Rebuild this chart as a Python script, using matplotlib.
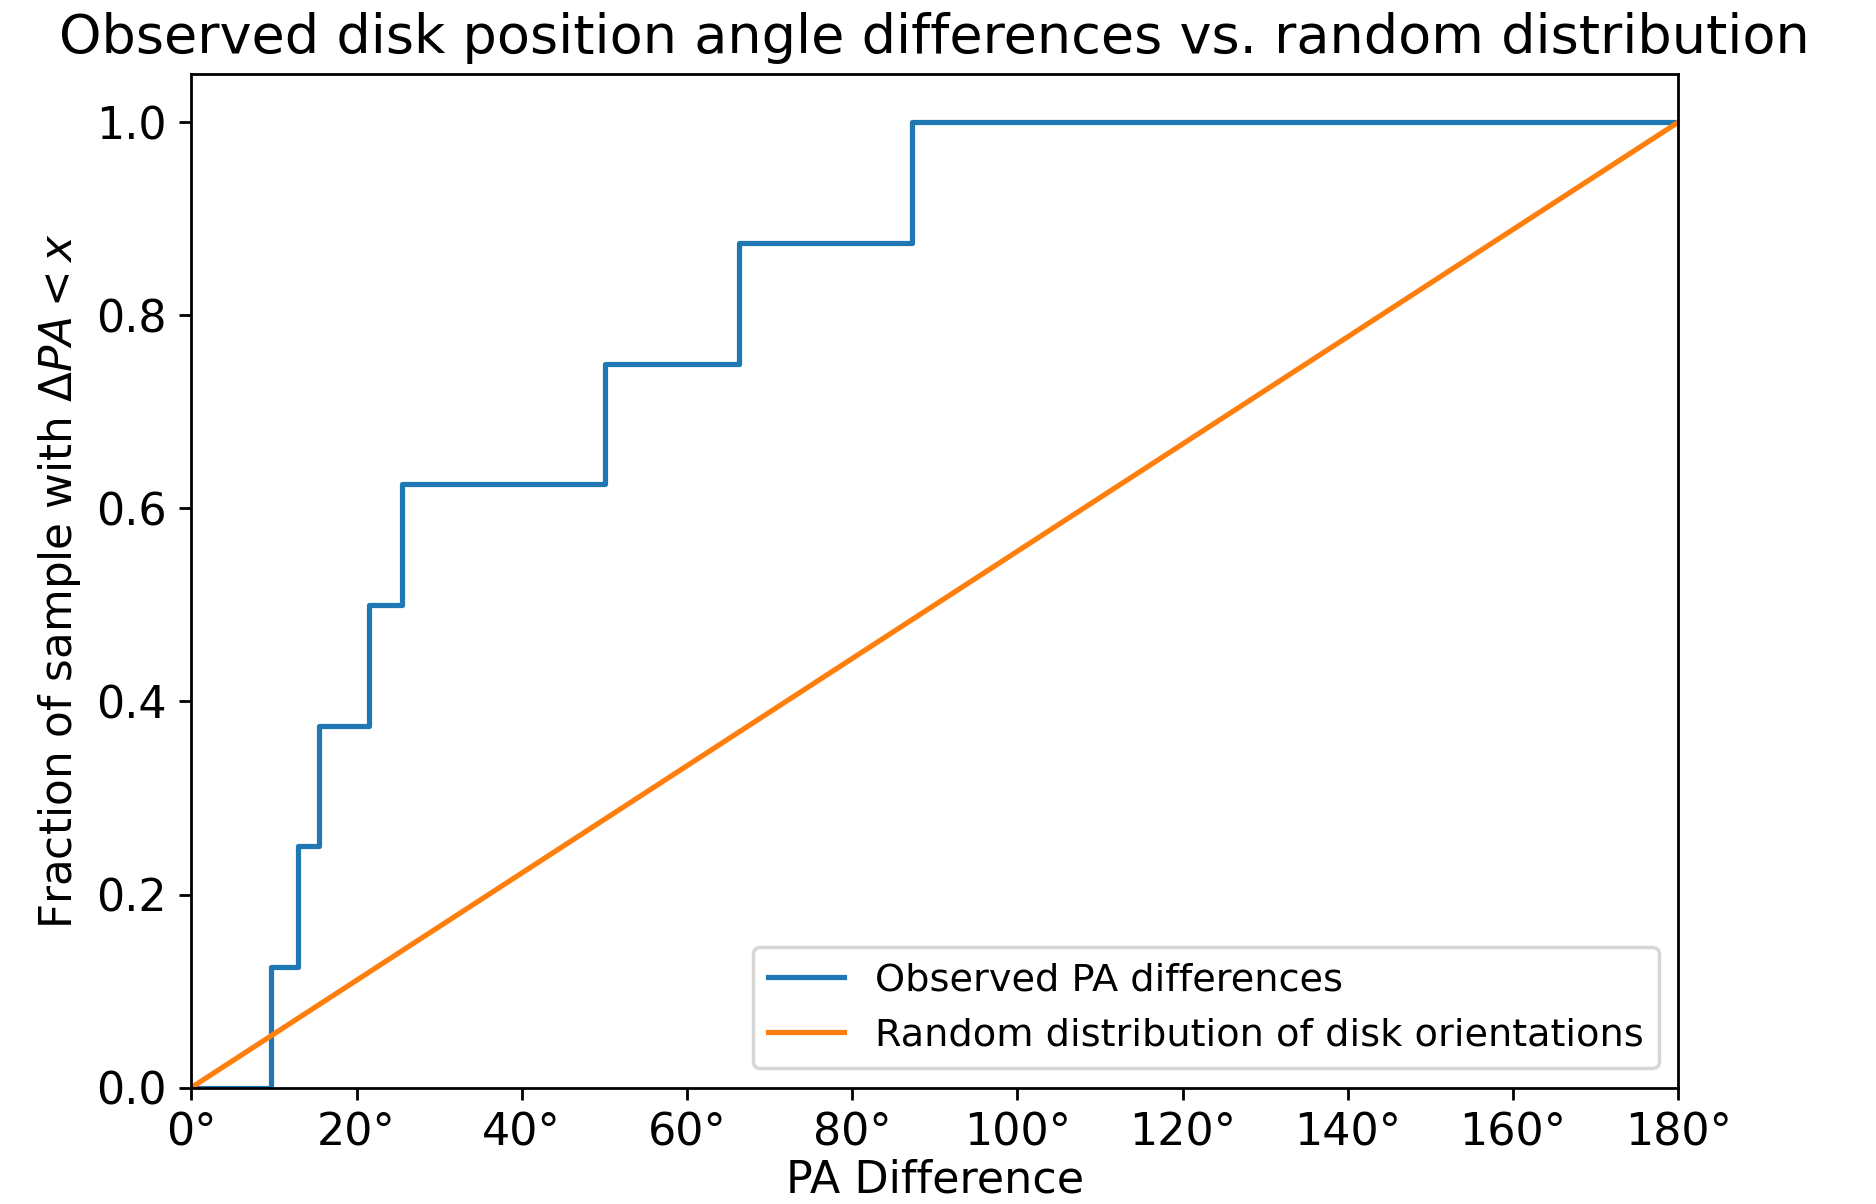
import numpy as np
import matplotlib
matplotlib.use("Agg")
import matplotlib.pyplot as plt
from matplotlib.ticker import FuncFormatter

# position angle differences between disks (degrees)
pa_diffs = [9.7, 12.9, 15.4, 21.5, 25.5, 50.1, 66.3, 87.3]
pa_max = 180.0

diffs = np.sort(np.array(pa_diffs))
n = len(diffs)
x_obs = np.concatenate([[0.0], diffs, [pa_max]])
y_obs = np.concatenate([[0.0], np.arange(1, n + 1) / n, [1.0]])

x_rand = np.array([0.0, pa_max])
y_rand = x_rand / pa_max

fig = plt.figure(figsize=(7.504, 4.816), dpi=250)
ax = fig.add_axes([0.102, 0.0967, 0.7925, 0.8418])

ax.step(x_obs, y_obs, where="post", label="Observed PA differences")
ax.plot(x_rand, y_rand, label="Random distribution of disk orientations")

ax.set_xlim(0, 180)
ax.set_ylim(0, 1.05)
ax.set_xticks(np.arange(0, 181, 20))
ax.xaxis.set_major_formatter(FuncFormatter(lambda v, p: "%d°" % v))
ax.tick_params(labelsize=12.8)

ax.set_xlabel("PA Difference", fontsize=12.8, labelpad=1)
ax.set_ylabel(r"Fraction of sample with $\Delta PA < x$", fontsize=12.6)
ax.set_title("Observed disk position angle differences vs. random distribution",
             fontsize=15.6)
ax.legend(loc="lower right", fontsize=11)

fig.savefig("out.png", dpi=250)
